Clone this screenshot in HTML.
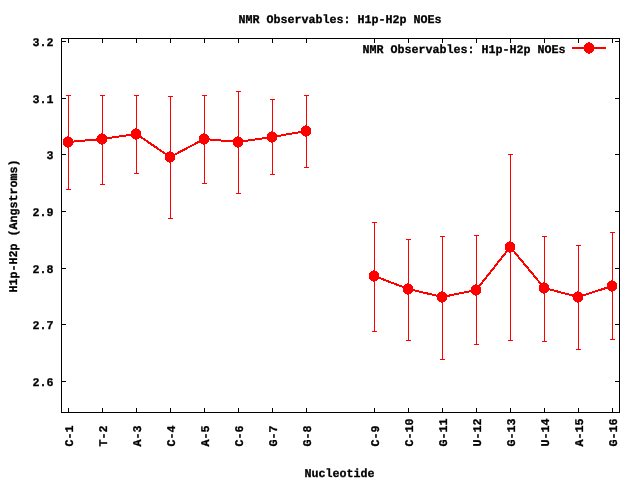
<!DOCTYPE html>
<html><head><meta charset="utf-8"><title>NMR Observables: H1p-H2p NOEs</title>
<style>
html,body{margin:0;padding:0;background:#fff;overflow:hidden;}
svg{display:block;}
text{font-family:"Liberation Mono", "DejaVu Sans Mono", monospace;font-weight:bold;font-size:11.75px;fill:#000;stroke:#000;stroke-width:0.3px;text-rendering:geometricPrecision;}
</style></head><body>
<svg width="640" height="480" viewBox="0 0 640 480" shape-rendering="crispEdges" style="will-change:transform">
<rect x="0" y="0" width="640" height="480" fill="#fff"/>
<rect x="61" y="38" width="559" height="1" fill="#000"/>
<rect x="61" y="412" width="559" height="1" fill="#000"/>
<rect x="61" y="38" width="1" height="375" fill="#000"/>
<rect x="619" y="38" width="1" height="375" fill="#000"/>
<rect x="62" y="41" width="4" height="1" fill="#000"/>
<rect x="615" y="41" width="4" height="1" fill="#000"/>
<text x="53.5" y="46" text-anchor="end" textLength="21" lengthAdjust="spacingAndGlyphs">3.2</text>
<rect x="62" y="98" width="4" height="1" fill="#000"/>
<rect x="615" y="98" width="4" height="1" fill="#000"/>
<text x="53.5" y="103" text-anchor="end" textLength="21" lengthAdjust="spacingAndGlyphs">3.1</text>
<rect x="62" y="154" width="4" height="1" fill="#000"/>
<rect x="615" y="154" width="4" height="1" fill="#000"/>
<text x="53.5" y="159" text-anchor="end" textLength="7" lengthAdjust="spacingAndGlyphs">3</text>
<rect x="62" y="211" width="4" height="1" fill="#000"/>
<rect x="615" y="211" width="4" height="1" fill="#000"/>
<text x="53.5" y="216" text-anchor="end" textLength="21" lengthAdjust="spacingAndGlyphs">2.9</text>
<rect x="62" y="268" width="4" height="1" fill="#000"/>
<rect x="615" y="268" width="4" height="1" fill="#000"/>
<text x="53.5" y="273" text-anchor="end" textLength="21" lengthAdjust="spacingAndGlyphs">2.8</text>
<rect x="62" y="324" width="4" height="1" fill="#000"/>
<rect x="615" y="324" width="4" height="1" fill="#000"/>
<text x="53.5" y="329" text-anchor="end" textLength="21" lengthAdjust="spacingAndGlyphs">2.7</text>
<rect x="62" y="381" width="4" height="1" fill="#000"/>
<rect x="615" y="381" width="4" height="1" fill="#000"/>
<text x="53.5" y="386" text-anchor="end" textLength="21" lengthAdjust="spacingAndGlyphs">2.6</text>
<rect x="68" y="408" width="1" height="4" fill="#000"/>
<rect x="68" y="39" width="1" height="4" fill="#000"/>
<text x="73" y="446.5" text-anchor="start" textLength="21" lengthAdjust="spacingAndGlyphs" transform="rotate(-90 73 446.5)">C-1</text>
<rect x="102" y="408" width="1" height="4" fill="#000"/>
<rect x="102" y="39" width="1" height="4" fill="#000"/>
<text x="107" y="446.5" text-anchor="start" textLength="21" lengthAdjust="spacingAndGlyphs" transform="rotate(-90 107 446.5)">T-2</text>
<rect x="136" y="408" width="1" height="4" fill="#000"/>
<rect x="136" y="39" width="1" height="4" fill="#000"/>
<text x="141" y="446.5" text-anchor="start" textLength="21" lengthAdjust="spacingAndGlyphs" transform="rotate(-90 141 446.5)">A-3</text>
<rect x="170" y="408" width="1" height="4" fill="#000"/>
<rect x="170" y="39" width="1" height="4" fill="#000"/>
<text x="175" y="446.5" text-anchor="start" textLength="21" lengthAdjust="spacingAndGlyphs" transform="rotate(-90 175 446.5)">C-4</text>
<rect x="204" y="408" width="1" height="4" fill="#000"/>
<rect x="204" y="39" width="1" height="4" fill="#000"/>
<text x="209" y="446.5" text-anchor="start" textLength="21" lengthAdjust="spacingAndGlyphs" transform="rotate(-90 209 446.5)">A-5</text>
<rect x="238" y="408" width="1" height="4" fill="#000"/>
<rect x="238" y="39" width="1" height="4" fill="#000"/>
<text x="243" y="446.5" text-anchor="start" textLength="21" lengthAdjust="spacingAndGlyphs" transform="rotate(-90 243 446.5)">C-6</text>
<rect x="272" y="408" width="1" height="4" fill="#000"/>
<rect x="272" y="39" width="1" height="4" fill="#000"/>
<text x="277" y="446.5" text-anchor="start" textLength="21" lengthAdjust="spacingAndGlyphs" transform="rotate(-90 277 446.5)">G-7</text>
<rect x="306" y="408" width="1" height="4" fill="#000"/>
<rect x="306" y="39" width="1" height="4" fill="#000"/>
<text x="311" y="446.5" text-anchor="start" textLength="21" lengthAdjust="spacingAndGlyphs" transform="rotate(-90 311 446.5)">G-8</text>
<rect x="374" y="408" width="1" height="4" fill="#000"/>
<rect x="374" y="39" width="1" height="4" fill="#000"/>
<text x="379" y="446.5" text-anchor="start" textLength="21" lengthAdjust="spacingAndGlyphs" transform="rotate(-90 379 446.5)">C-9</text>
<rect x="408" y="408" width="1" height="4" fill="#000"/>
<rect x="408" y="39" width="1" height="4" fill="#000"/>
<text x="413" y="446.5" text-anchor="start" textLength="28" lengthAdjust="spacingAndGlyphs" transform="rotate(-90 413 446.5)">C-10</text>
<rect x="442" y="408" width="1" height="4" fill="#000"/>
<rect x="442" y="39" width="1" height="4" fill="#000"/>
<text x="447" y="446.5" text-anchor="start" textLength="28" lengthAdjust="spacingAndGlyphs" transform="rotate(-90 447 446.5)">G-11</text>
<rect x="476" y="408" width="1" height="4" fill="#000"/>
<rect x="476" y="39" width="1" height="4" fill="#000"/>
<text x="481" y="446.5" text-anchor="start" textLength="28" lengthAdjust="spacingAndGlyphs" transform="rotate(-90 481 446.5)">U-12</text>
<rect x="510" y="408" width="1" height="4" fill="#000"/>
<rect x="510" y="39" width="1" height="4" fill="#000"/>
<text x="515" y="446.5" text-anchor="start" textLength="28" lengthAdjust="spacingAndGlyphs" transform="rotate(-90 515 446.5)">G-13</text>
<rect x="544" y="408" width="1" height="4" fill="#000"/>
<rect x="544" y="39" width="1" height="4" fill="#000"/>
<text x="549" y="446.5" text-anchor="start" textLength="28" lengthAdjust="spacingAndGlyphs" transform="rotate(-90 549 446.5)">U-14</text>
<rect x="578" y="408" width="1" height="4" fill="#000"/>
<rect x="578" y="39" width="1" height="4" fill="#000"/>
<text x="583" y="446.5" text-anchor="start" textLength="28" lengthAdjust="spacingAndGlyphs" transform="rotate(-90 583 446.5)">A-15</text>
<rect x="612" y="408" width="1" height="4" fill="#000"/>
<rect x="612" y="39" width="1" height="4" fill="#000"/>
<text x="617" y="446.5" text-anchor="start" textLength="28" lengthAdjust="spacingAndGlyphs" transform="rotate(-90 617 446.5)">G-16</text>
<text x="238.5" y="23" text-anchor="start" textLength="203" lengthAdjust="spacingAndGlyphs">NMR Observables: H1p-H2p NOEs</text>
<text x="304.5" y="477" text-anchor="start" textLength="70" lengthAdjust="spacingAndGlyphs">Nucleotide</text>
<text x="17" y="292.5" text-anchor="start" textLength="133" lengthAdjust="spacingAndGlyphs" transform="rotate(-90 17 292.5)">H1p-H2p (Angstroms)</text>
<text x="362.5" y="53" text-anchor="start" textLength="203" lengthAdjust="spacingAndGlyphs">NMR Observables: H1p-H2p NOEs</text>
<rect x="572" y="47" width="34" height="2" fill="#ff0000"/>
<ellipse cx="589" cy="48" rx="5.2" ry="5.75" fill="#ff0000"/>
<rect x="68" y="95" width="1" height="95" fill="#ff0000"/>
<rect x="66" y="95" width="5" height="1" fill="#ff0000"/>
<rect x="66" y="189" width="5" height="1" fill="#ff0000"/>
<rect x="102" y="95" width="1" height="90" fill="#ff0000"/>
<rect x="100" y="95" width="5" height="1" fill="#ff0000"/>
<rect x="100" y="184" width="5" height="1" fill="#ff0000"/>
<rect x="136" y="95" width="1" height="79" fill="#ff0000"/>
<rect x="134" y="95" width="5" height="1" fill="#ff0000"/>
<rect x="134" y="173" width="5" height="1" fill="#ff0000"/>
<rect x="170" y="96" width="1" height="123" fill="#ff0000"/>
<rect x="168" y="96" width="5" height="1" fill="#ff0000"/>
<rect x="168" y="218" width="5" height="1" fill="#ff0000"/>
<rect x="204" y="95" width="1" height="89" fill="#ff0000"/>
<rect x="202" y="95" width="5" height="1" fill="#ff0000"/>
<rect x="202" y="183" width="5" height="1" fill="#ff0000"/>
<rect x="238" y="91" width="1" height="103" fill="#ff0000"/>
<rect x="236" y="91" width="5" height="1" fill="#ff0000"/>
<rect x="236" y="193" width="5" height="1" fill="#ff0000"/>
<rect x="272" y="99" width="1" height="76" fill="#ff0000"/>
<rect x="270" y="99" width="5" height="1" fill="#ff0000"/>
<rect x="270" y="174" width="5" height="1" fill="#ff0000"/>
<rect x="306" y="95" width="1" height="73" fill="#ff0000"/>
<rect x="304" y="95" width="5" height="1" fill="#ff0000"/>
<rect x="304" y="167" width="5" height="1" fill="#ff0000"/>
<rect x="374" y="222" width="1" height="110" fill="#ff0000"/>
<rect x="372" y="222" width="5" height="1" fill="#ff0000"/>
<rect x="372" y="331" width="5" height="1" fill="#ff0000"/>
<rect x="408" y="239" width="1" height="102" fill="#ff0000"/>
<rect x="406" y="239" width="5" height="1" fill="#ff0000"/>
<rect x="406" y="340" width="5" height="1" fill="#ff0000"/>
<rect x="442" y="236" width="1" height="124" fill="#ff0000"/>
<rect x="440" y="236" width="5" height="1" fill="#ff0000"/>
<rect x="440" y="359" width="5" height="1" fill="#ff0000"/>
<rect x="476" y="235" width="1" height="110" fill="#ff0000"/>
<rect x="474" y="235" width="5" height="1" fill="#ff0000"/>
<rect x="474" y="344" width="5" height="1" fill="#ff0000"/>
<rect x="510" y="154" width="1" height="187" fill="#ff0000"/>
<rect x="508" y="154" width="5" height="1" fill="#ff0000"/>
<rect x="508" y="340" width="5" height="1" fill="#ff0000"/>
<rect x="544" y="236" width="1" height="106" fill="#ff0000"/>
<rect x="542" y="236" width="5" height="1" fill="#ff0000"/>
<rect x="542" y="341" width="5" height="1" fill="#ff0000"/>
<rect x="578" y="245" width="1" height="105" fill="#ff0000"/>
<rect x="576" y="245" width="5" height="1" fill="#ff0000"/>
<rect x="576" y="349" width="5" height="1" fill="#ff0000"/>
<rect x="612" y="232" width="1" height="108" fill="#ff0000"/>
<rect x="610" y="232" width="5" height="1" fill="#ff0000"/>
<rect x="610" y="339" width="5" height="1" fill="#ff0000"/>
<polyline points="68.25,142 102.25,139 136.25,134 170.25,157 204.25,139 238.25,142 272.25,137 306.25,131" fill="none" stroke="#ff0000" stroke-width="2"/>
<polyline points="374.25,276 408.25,289 442.25,297 476.25,290 510.25,247 544.25,288 578.25,297 612.25,286" fill="none" stroke="#ff0000" stroke-width="2"/>
<ellipse cx="68" cy="142" rx="5.2" ry="5.75" fill="#ff0000"/>
<ellipse cx="102" cy="139" rx="5.2" ry="5.75" fill="#ff0000"/>
<ellipse cx="136" cy="134" rx="5.2" ry="5.75" fill="#ff0000"/>
<ellipse cx="170" cy="157" rx="5.2" ry="5.75" fill="#ff0000"/>
<ellipse cx="204" cy="139" rx="5.2" ry="5.75" fill="#ff0000"/>
<ellipse cx="238" cy="142" rx="5.2" ry="5.75" fill="#ff0000"/>
<ellipse cx="272" cy="137" rx="5.2" ry="5.75" fill="#ff0000"/>
<ellipse cx="306" cy="131" rx="5.2" ry="5.75" fill="#ff0000"/>
<ellipse cx="374" cy="276" rx="5.2" ry="5.75" fill="#ff0000"/>
<ellipse cx="408" cy="289" rx="5.2" ry="5.75" fill="#ff0000"/>
<ellipse cx="442" cy="297" rx="5.2" ry="5.75" fill="#ff0000"/>
<ellipse cx="476" cy="290" rx="5.2" ry="5.75" fill="#ff0000"/>
<ellipse cx="510" cy="247" rx="5.2" ry="5.75" fill="#ff0000"/>
<ellipse cx="544" cy="288" rx="5.2" ry="5.75" fill="#ff0000"/>
<ellipse cx="578" cy="297" rx="5.2" ry="5.75" fill="#ff0000"/>
<ellipse cx="612" cy="286" rx="5.2" ry="5.75" fill="#ff0000"/>
</svg>
</body></html>
